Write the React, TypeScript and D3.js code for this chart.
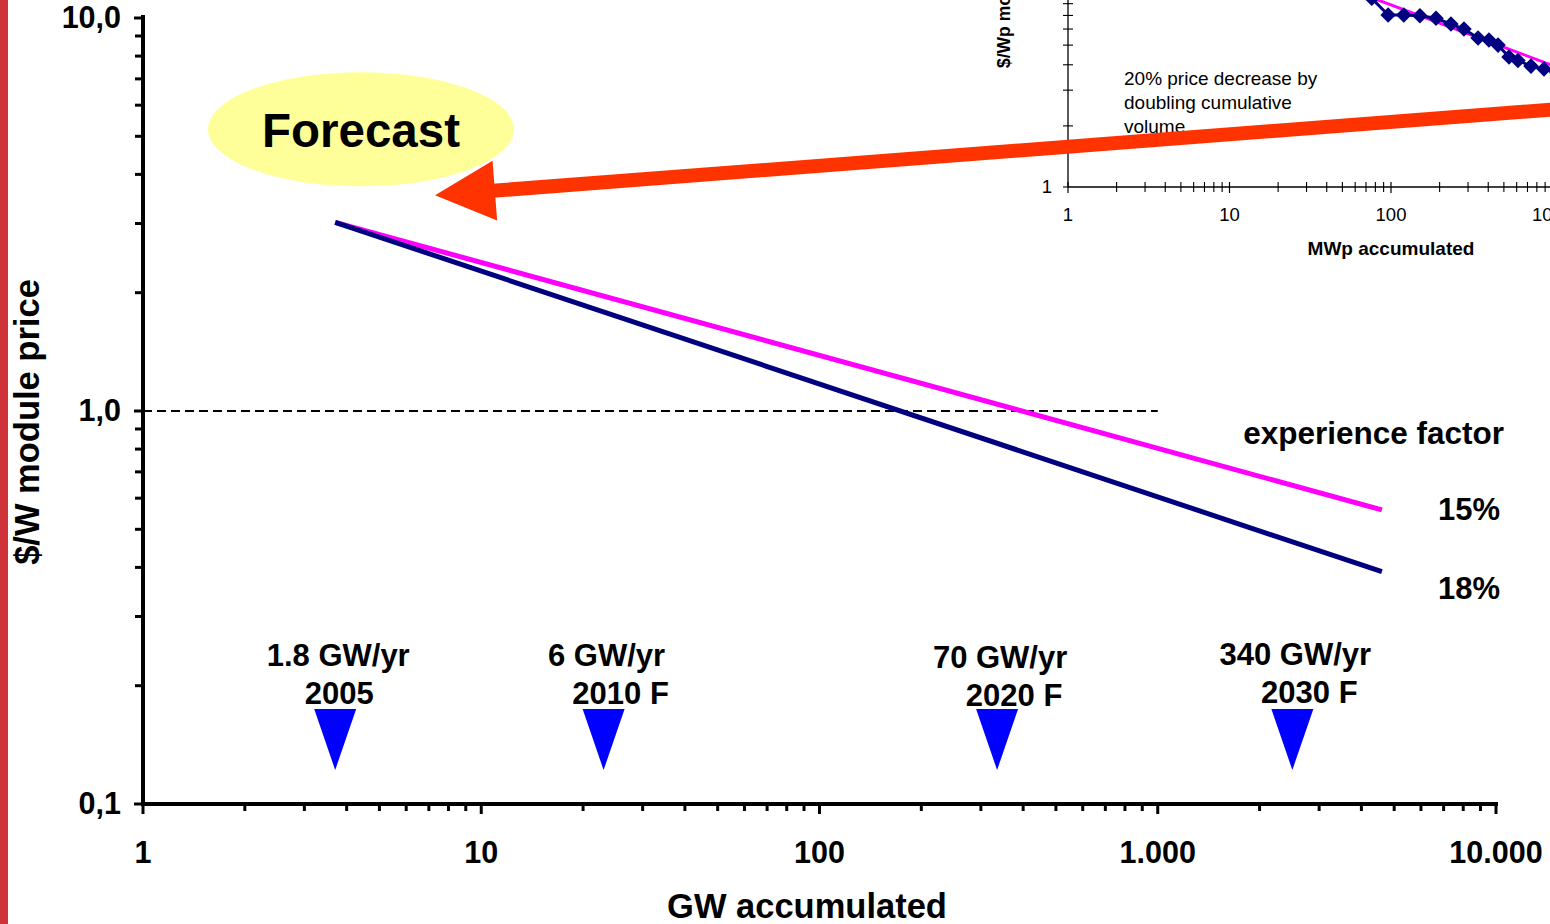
import React from 'react';
import * as d3 from 'd3';

// ---------- data ----------
const xTickValues = [1, 10, 100, 1000, 10000];
const xTickLabels = ['1', '10', '100', '1.000', '10.000'];
const yTickValues = [0.1, 1, 10];
const yTickLabels = ['0,1', '1,0', '10,0'];

const seriesNames = ['15%', '18%'];
const curve15 = [
  { gw: 3.7, price: 3.02 },
  { gw: 4600, price: 0.56 },
];
const curve18 = [
  { gw: 3.7, price: 3.02 },
  { gw: 4600, price: 0.39 },
];

const milestoneGW = [3.7, 23, 335, 2500];
const milestoneRate = ['1.8 GW/yr', '6 GW/yr', '70 GW/yr', '340 GW/yr'];
const milestoneYear = ['2005', '2010 F', '2020 F', '2030 F'];

// inset (historic) data
const insetMWp = [76, 96, 120, 151, 190, 235, 283, 346, 404, 460, 538, 611, 736, 886, 1066];
const insetPrice = [8.5, 7.03, 7.03, 6.98, 6.78, 6.35, 6.0, 5.42, 5.3, 5.0, 4.37, 4.2, 3.94, 3.81, 3.65];
const insetFit = [
  { mwp: 50, price: 9.7 },
  { mwp: 1200, price: 3.76 },
];
const insetXTickValues = [1, 10, 100, 1000];
const insetXTickLabels = ['1', '10', '100', '1000'];
const insetNote = ['20% price decrease by', 'doubling cumulative', 'volume'];

// annotations (data coordinates of main chart)
const forecastBubble = { gw: 4.41, price: 5.21, label: 'Forecast' };
const arrowTail = { gw: 15440, price: 5.87 };
const arrowTip = { gw: 7.3, price: 3.54 };

// ---------- layout ----------
const W = 1550;
const H = 924;
const FONT = '"Liberation Sans", Arial, sans-serif';

const x = d3.scaleLog().domain([1, 10000]).range([143, 1496]);
const y = d3.scaleLog().domain([0.1, 10]).range([804, 18]);
const ix = d3.scaleLog().domain([1, 10000]).range([1068, 1068 + 4 * 161.5]);
const iy = d3.scaleLog().domain([1, 10]).range([187, -16]);

function minorTicks(lo: number, hi: number) {
  const out: number[] = [];
  for (let d = lo; d < hi; d *= 10) {
    for (let k = 2; k <= 9; k++) out.push(+(d * k).toPrecision(6));
  }
  return out;
}

export default function App() {
  const line = d3
    .line<{ gw: number; price: number }>()
    .x((d) => x(d.gw))
    .y((d) => y(d.price));
  const insetLine = d3
    .line<[number, number]>()
    .x((d) => ix(d[0]))
    .y((d) => iy(d[1]));
  const insetPts: [number, number][] = insetMWp.map((m, i) => [m, insetPrice[i]]);

  const xMinor = minorTicks(1, 10000);
  const yMinor = minorTicks(0.1, 10);
  const ixMinor = minorTicks(1, 10000);
  const iyMinor = minorTicks(1, 10);

  // arrow geometry
  const tx = x(arrowTip.gw), ty = y(arrowTip.price);
  const sx = x(arrowTail.gw), sy = y(arrowTail.price);
  const len = Math.hypot(tx - sx, ty - sy);
  const ux = (tx - sx) / len, uy = (ty - sy) / len;
  const nx = -uy, ny = ux;
  const headLen = 60, headHalf = 30;
  const bx = tx - ux * headLen, by = ty - uy * headLen;
  const head = [
    [tx, ty],
    [bx + nx * headHalf, by + ny * headHalf],
    [bx - nx * headHalf, by - ny * headHalf],
  ]
    .map((p) => p.join(','))
    .join(' ');

  const year2Dx = [4, 17, 17, 17];
  const rateDy = [0, 0, 2, -1];

  return (
    <svg
      width={W}
      height={H}
      style={{ position: 'absolute', left: 0, top: 0, display: 'block', background: '#fff' }}
      fontFamily={FONT}
    >
      <rect x={0} y={0} width={W} height={H} fill="#fff" />
      {/* left red bar */}
      <rect x={0} y={0} width={8} height={H} fill="#d0323a" />

      {/* ---------- inset chart ---------- */}
      <g>
        <text
          transform={`translate(1010,68) rotate(-90)`}
          fontSize={17.5}
          fontWeight="bold"
          textAnchor="start"
        >
          $/Wp module price
        </text>
        <line x1={ix(1)} x2={ix(1)} y1={-20} y2={iy(1)} stroke="#000" strokeWidth={1.3} />
        <line x1={ix(1)} x2={W + 10} y1={iy(1)} y2={iy(1)} stroke="#000" strokeWidth={1.3} />
        {iyMinor.map((v) => (
          <line key={'iy' + v} x1={ix(1) - 5} x2={ix(1) + 5} y1={iy(v)} y2={iy(v)} stroke="#000" strokeWidth={1.1} />
        ))}
        <line x1={ix(1) - 5} x2={ix(1)} y1={iy(1)} y2={iy(1)} stroke="#000" strokeWidth={1.1} />
        {ixMinor.map((v) => (
          <line key={'ix' + v} x1={ix(v)} x2={ix(v)} y1={iy(1) - 5} y2={iy(1) + 5} stroke="#000" strokeWidth={1.1} />
        ))}
        {insetXTickValues.map((v) => (
          <line key={'ixm' + v} x1={ix(v)} x2={ix(v)} y1={iy(1) - 5} y2={iy(1) + 6} stroke="#000" strokeWidth={1.2} />
        ))}
        {insetXTickValues.map((v, i) => (
          <text key={'ixl' + v} x={ix(v)} y={221} fontSize={18.5} textAnchor="middle">
            {insetXTickLabels[i]}
          </text>
        ))}
        <text x={1052} y={193} fontSize={18.5} textAnchor="end">1</text>
        <text x={1391} y={255} fontSize={19} fontWeight="bold" textAnchor="middle">
          MWp accumulated
        </text>
        {insetNote.map((t, i) => (
          <text key={'note' + i} x={1124} y={85 + i * 24} fontSize={19}>
            {t}
          </text>
        ))}
        <path
          d={insetLine(insetFit.map((d) => [d.mwp, d.price] as [number, number])) || ''}
          fill="none"
          stroke="#ff00ff"
          strokeWidth={3}
        />
        <path d={insetLine(insetPts) || ''} fill="none" stroke="#000080" strokeWidth={3} />
        {insetPts.map((p, i) => (
          <rect
            key={'dm' + i}
            x={-5.5}
            y={-5.5}
            width={11}
            height={11}
            fill="#000080"
            transform={`translate(${ix(p[0])},${iy(p[1])}) rotate(45)`}
          />
        ))}
      </g>

      {/* ---------- main chart ---------- */}
      {/* dashed 1 $/W line */}
      <line
        x1={x(1)}
        x2={x(1000)}
        y1={y(1)}
        y2={y(1)}
        stroke="#000"
        strokeWidth={2}
        strokeDasharray="9,5"
      />

      {/* experience curves */}
      <path d={line(curve15) || ''} fill="none" stroke="#ff00ff" strokeWidth={5} />
      <path d={line(curve18) || ''} fill="none" stroke="#000080" strokeWidth={5} />

      <text x={1504} y={444} fontSize={31.5} fontWeight="bold" textAnchor="end">
        experience factor
      </text>
      <text x={1500} y={520} fontSize={31} fontWeight="bold" textAnchor="end">
        {seriesNames[0]}
      </text>
      <text x={1500} y={599} fontSize={31} fontWeight="bold" textAnchor="end">
        {seriesNames[1]}
      </text>

      {/* milestones */}
      {milestoneGW.map((g, i) => {
        const cx = x(g);
        const tipY = y(0.122);
        return (
          <g key={'ms' + i}>
            <polygon
              points={`${cx - 21},${tipY - 61} ${cx + 21},${tipY - 61} ${cx},${tipY}`}
              fill="#0000ff"
            />
            <text x={cx + 3} y={666 + rateDy[i]} fontSize={31} fontWeight="bold" textAnchor="middle">
              {milestoneRate[i]}
            </text>
            <text x={cx + year2Dx[i]} y={704 + rateDy[i]} fontSize={31} fontWeight="bold" textAnchor="middle">
              {milestoneYear[i]}
            </text>
          </g>
        );
      })}

      {/* axes */}
      <line x1={x(1)} x2={x(1)} y1={y(10) - 3} y2={y(0.1) + 2} stroke="#000" strokeWidth={4} />
      <line x1={x(1) - 2} x2={x(10000) + 2} y1={y(0.1)} y2={y(0.1)} stroke="#000" strokeWidth={4} />
      {yMinor.map((v) => (
        <line key={'ym' + v} x1={x(1) - 8} x2={x(1)} y1={y(v)} y2={y(v)} stroke="#000" strokeWidth={3} />
      ))}
      {yTickValues.map((v, i) => (
        <g key={'yt' + v}>
          <line x1={x(1) - 9} x2={x(1)} y1={y(v)} y2={y(v)} stroke="#000" strokeWidth={3} />
          <text x={121} y={y(v) + 10} fontSize={30.5} fontWeight="bold" textAnchor="end">
            {yTickLabels[i]}
          </text>
        </g>
      ))}
      {xMinor.map((v) => (
        <line key={'xm' + v} x1={x(v)} x2={x(v)} y1={y(0.1)} y2={y(0.1) + 7} stroke="#000" strokeWidth={3} />
      ))}
      {xTickValues.map((v, i) => (
        <g key={'xt' + v}>
          <line x1={x(v)} x2={x(v)} y1={y(0.1)} y2={y(0.1) + 10} stroke="#000" strokeWidth={3} />
          <text x={x(v)} y={863} fontSize={30.5} fontWeight="bold" textAnchor="middle">
            {xTickLabels[i]}
          </text>
        </g>
      ))}
      <text x={807} y={918} fontSize={34.5} fontWeight="bold" textAnchor="middle">
        GW accumulated
      </text>
      <text
        transform={`translate(39,422) rotate(-90)`}
        fontSize={34.5}
        fontWeight="bold"
        textAnchor="middle"
      >
        $/W module price
      </text>

      {/* forecast bubble */}
      <ellipse cx={x(forecastBubble.gw)} cy={y(forecastBubble.price)} rx={153} ry={57} fill="#ffff99" />
      <text
        x={x(forecastBubble.gw)}
        y={y(forecastBubble.price) + 18}
        fontSize={47.5}
        fontWeight="bold"
        textAnchor="middle"
      >
        {forecastBubble.label}
      </text>

      {/* arrow */}
      <line x1={sx} y1={sy} x2={bx + ux * 2} y2={by + uy * 2} stroke="#ff3300" strokeWidth={14} />
      <polygon points={head} fill="#ff3300" />
    </svg>
  );
}
